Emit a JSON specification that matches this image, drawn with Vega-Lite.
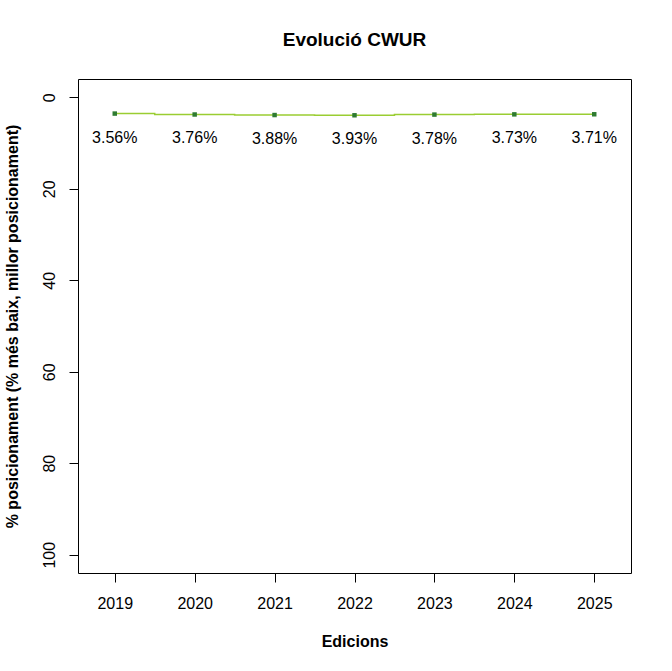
{
  "$schema": "https://vega.github.io/schema/vega-lite/v6.json",
  "width": 553,
  "height": 494,
  "autosize": {"type": "none"},
  "padding": {"left": 78, "top": 79, "right": 41, "bottom": 98},
  "background": "white",
  "config": {
    "font": "Liberation Sans",
    "view": {"stroke": "black", "strokeWidth": 1},
    "axis": {
      "domain": false,
      "grid": false,
      "tickColor": "black",
      "tickSize": 9,
      "tickWidth": 1,
      "labelColor": "black",
      "labelFontSize": 16,
      "labelFont": "Liberation Sans",
      "titleFont": "Liberation Sans",
      "titleFontSize": 16,
      "titleFontWeight": "bold",
      "titleColor": "black"
    }
  },
  "title": {
    "text": "Evolució CWUR",
    "fontSize": 19,
    "fontWeight": "bold",
    "font": "Liberation Sans",
    "color": "black",
    "anchor": "middle",
    "offset": 29
  },
  "data": {
    "values": [
      {"Edicio": 2019, "Percent": 3.56, "Label": "3.56%"},
      {"Edicio": 2020, "Percent": 3.76, "Label": "3.76%"},
      {"Edicio": 2021, "Percent": 3.88, "Label": "3.88%"},
      {"Edicio": 2022, "Percent": 3.93, "Label": "3.93%"},
      {"Edicio": 2023, "Percent": 3.78, "Label": "3.78%"},
      {"Edicio": 2024, "Percent": 3.73, "Label": "3.73%"},
      {"Edicio": 2025, "Percent": 3.71, "Label": "3.71%"}
    ]
  },
  "encoding": {
    "x": {
      "field": "Edicio",
      "type": "quantitative",
      "title": "Edicions",
      "scale": {"domain": [2018.54, 2025.46], "nice": false, "zero": false},
      "axis": {"values": [2019, 2020, 2021, 2022, 2023, 2024, 2025], "format": "d", "labelPadding": 13, "titlePadding": 22}
    },
    "y": {
      "field": "Percent",
      "type": "quantitative",
      "title": "% posicionament (% més baix, millor posicionament)",
      "scale": {"domain": [-4, 104], "reverse": true, "nice": false, "zero": false},
      "axis": {
        "values": [0, 20, 40, 60, 80, 100],
        "labelAngle": -90,
        "labelAlign": "center",
        "labelBaseline": "bottom",
        "labelPadding": 12,
        "titlePadding": 21
      }
    }
  },
  "layer": [
    {
      "mark": {"type": "line", "interpolate": "step", "color": "#9acd32", "strokeWidth": 1.5}
    },
    {
      "mark": {"type": "point", "shape": "square", "filled": true, "size": 20, "color": "#2e7b32", "opacity": 1}
    },
    {
      "mark": {"type": "text", "dy": 24, "fontSize": 16, "color": "black", "font": "Liberation Sans"},
      "encoding": {
        "text": {"field": "Label", "type": "nominal"}
      }
    }
  ]
}
